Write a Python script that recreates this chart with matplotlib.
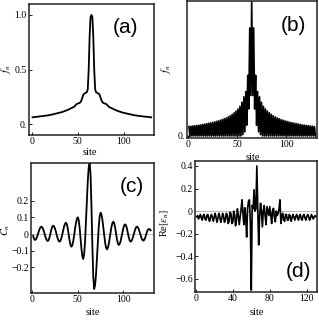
import numpy as np
import matplotlib
matplotlib.use('Agg')
import matplotlib.pyplot as plt

plt.rcParams['font.family'] = ['Liberation Serif', 'DejaVu Serif']
plt.rcParams['mathtext.fontset'] = 'stix'

# site index 1..130
sites = np.arange(1, 131)

# (a) f_n, smooth profile
f_a = [0.062, 0.063, 0.064, 0.065, 0.066, 0.067, 0.068, 0.069, 0.070, 0.071,
       0.072, 0.073, 0.074, 0.075, 0.077, 0.078, 0.079, 0.081, 0.082, 0.084,
       0.085, 0.087, 0.089, 0.090, 0.092, 0.094, 0.096, 0.098, 0.100, 0.103,
       0.105, 0.108, 0.110, 0.113, 0.116, 0.119, 0.122, 0.126, 0.129, 0.133,
       0.137, 0.141, 0.146, 0.150, 0.153, 0.158, 0.166, 0.176, 0.184, 0.188,
       0.190, 0.193, 0.200, 0.215, 0.240, 0.265, 0.278, 0.283, 0.287, 0.292,
       0.320, 0.500, 0.800, 0.980, 1.000, 0.980, 0.800, 0.500, 0.320, 0.292,
       0.287, 0.283, 0.278, 0.265, 0.240, 0.215, 0.200, 0.193, 0.190, 0.188,
       0.184, 0.176, 0.166, 0.158, 0.153, 0.150, 0.146, 0.141, 0.137, 0.133,
       0.129, 0.126, 0.122, 0.119, 0.116, 0.113, 0.110, 0.108, 0.105, 0.103,
       0.100, 0.098, 0.096, 0.094, 0.092, 0.090, 0.089, 0.087, 0.085, 0.084,
       0.082, 0.081, 0.079, 0.078, 0.077, 0.075, 0.074, 0.073, 0.072, 0.071,
       0.070, 0.069, 0.068, 0.067, 0.066, 0.065, 0.064, 0.063, 0.062, 0.062]

# (b) f_n, odd sites high / even sites low
f_b_high = [0.070, 0.072, 0.074, 0.076, 0.078, 0.080, 0.082, 0.085, 0.088, 0.091,
            0.094, 0.097, 0.100, 0.104, 0.108, 0.112, 0.117, 0.122, 0.128, 0.134,
            0.141, 0.150, 0.160, 0.172, 0.185, 0.200, 0.220, 0.250, 0.290, 0.330,
            0.450, 0.800, 1.000, 0.800, 0.450, 0.330, 0.290, 0.250, 0.220, 0.200,
            0.185, 0.172, 0.160, 0.150, 0.141, 0.134, 0.128, 0.122, 0.117, 0.112,
            0.108, 0.104, 0.100, 0.097, 0.094, 0.091, 0.088, 0.085, 0.082, 0.080,
            0.078, 0.076, 0.074, 0.072, 0.070]
f_b_low = [0.0] * 27 + [0.01, 0.03, 0.08, 0.20, 0.30, 0.30, 0.20, 0.08, 0.03, 0.01] + [0.0] * 28

# (c) C_n
c_n = [-0.012, -0.030, -0.036, -0.032, -0.021, -0.005, 0.013, 0.029, 0.040, 0.044,
       0.040, 0.028, 0.011, -0.009, -0.026, -0.038, -0.042, -0.036, -0.019, 0.004,
       0.027, 0.044, 0.050, 0.045, 0.032, 0.013, -0.009, -0.028, -0.041, -0.046,
       -0.040, -0.025, -0.002, 0.024, 0.047, 0.062, 0.068, 0.058, 0.032, -0.004,
       -0.040, -0.066, -0.076, -0.067, -0.043, -0.008, 0.032, 0.067, 0.091, 0.100,
       0.083, 0.038, -0.025, -0.088, -0.133, -0.150, -0.121, -0.041, 0.076, 0.204,
       0.321, 0.401, 0.430, 0.358, 0.168, -0.068, -0.258, -0.330, -0.307, -0.244,
       -0.152, -0.050, 0.042, 0.105, 0.128, 0.117, 0.087, 0.042, -0.006, -0.051,
       -0.081, -0.092, -0.084, -0.061, -0.027, 0.009, 0.043, 0.066, 0.074, 0.065,
       0.039, 0.004, -0.031, -0.057, -0.066, -0.060, -0.043, -0.018, 0.010, 0.035,
       0.052, 0.058, 0.051, 0.032, 0.006, -0.020, -0.039, -0.046, -0.041, -0.029,
       -0.011, 0.009, 0.027, 0.040, 0.044, 0.040, 0.028, 0.011, -0.007, -0.024,
       -0.036, -0.040, -0.035, -0.023, -0.005, 0.013, 0.025, 0.030, 0.028, 0.022]

# (d) Re[eps_n]
re_eps = [-0.05, -0.04, -0.07, -0.05, -0.03, -0.06, -0.08, -0.04, -0.03, -0.07,
          -0.08, -0.04, -0.03, -0.07, -0.09, -0.05, -0.03, -0.06, -0.09, -0.05,
          -0.02, -0.06, -0.10, -0.06, -0.02, -0.05, -0.10, -0.07, -0.02, -0.04,
          -0.10, -0.08, -0.02, -0.03, -0.11, -0.09, -0.01, -0.02, -0.11, -0.10,
          0.00, -0.03, -0.13, -0.08, 0.02, -0.04, -0.12, -0.05, 0.02, 0.10,
          -0.02, -0.12, 0.03, -0.05, -0.23, 0.02, 0.09, 0.10, -0.10, -0.70,
          0.05, 0.02, 0.19, 0.00, 0.02, 0.40, 0.02, -0.30, -0.05, 0.07,
          0.00, -0.14, 0.00, 0.05, -0.05, -0.12, 0.04, 0.00, -0.04, 0.04,
          -0.03, -0.11, 0.00, 0.025, -0.06, -0.095, 0.00, -0.04, -0.02, 0.02,
          0.10, -0.11, -0.04, -0.02, -0.08, -0.09, -0.03, -0.03, -0.08, -0.08,
          -0.03, -0.04, -0.09, -0.06, -0.03, -0.05, -0.08, -0.05, -0.03, -0.06,
          -0.08, -0.04, -0.03, -0.07, -0.08, -0.04, -0.03, -0.06, -0.08, -0.05,
          -0.03, -0.05, -0.08, -0.06, -0.03, -0.05, -0.07, -0.05, -0.04, -0.05]

f_b = []
for hi, lo in zip(f_b_high, f_b_low):
    f_b += [hi, lo]

fig = plt.figure(figsize=(3.19, 3.21), dpi=100)

ax_a = fig.add_axes([29/319, 1-135/321, 125/319, 131/321])
ax_b = fig.add_axes([187/319, 1-138/321, 130/319, 137/321])
ax_c = fig.add_axes([31/319, 1-293/321, 123/319, 130/321])
ax_d = fig.add_axes([195/319, 1-292/321, 122/319, 131/321])

lc = 'black'
ax_a.plot(sites, f_a, color=lc, lw=1.3)
ax_b.plot(sites, f_b, color=lc, lw=1.2)
ax_c.axhline(0, color='#b0b0b0', lw=0.6)
ax_c.plot(sites, c_n, color=lc, lw=1.3)
ax_d.axhline(0, color='#b0b0b0', lw=0.6)
ax_d.plot(sites, re_eps, color=lc, lw=1.2)

ax_a.set_xlim(-2.9, 133)
ax_a.set_ylim(-0.1, 1.1)
ax_b.set_xlim(-1, 131.6)
ax_b.set_ylim(-0.015, 1.0)
ax_c.set_xlim(-1.4, 133.7)
ax_c.set_ylim(-0.354, 0.426)
ax_d.set_xlim(-0.8, 131)
ax_d.set_ylim(-0.717, 0.444)

ax_a.set_yticks([0, 0.5, 1.0], ['0.', '0.5', '1.0'])
ax_b.set_yticks([0], ['0.'])
ax_c.set_yticks([-0.2, -0.1, 0, 0.1, 0.2], ['\u22120.2', '\u22120.1', '0', '0.1', '0.2'])
ax_d.set_yticks([-0.6, -0.4, -0.2, 0, 0.2, 0.4],
                ['\u22120.6', '\u22120.4', '\u22120.2', '0', '0.2', '0.4'])
for ax in (ax_a, ax_b, ax_c):
    ax.set_xticks([0, 50, 100])
ax_d.set_xticks([0, 40, 80, 120])

for ax in (ax_a, ax_b, ax_c, ax_d):
    ax.patch.set_visible(False)
    ax.tick_params(direction='in', length=2.5, width=0.6, labelsize=7, pad=1.5)
    for s in ax.spines.values():
        s.set_linewidth(1.1)
        s.set_color('#222222')
    ax.set_xlabel('site', fontsize=7.5)

ax_a.set_ylabel('$f_n$', fontsize=7.5)
ax_b.set_ylabel('$f_n$', fontsize=7.5)
ax_c.set_ylabel('$C_n$', fontsize=7.5)
ax_d.set_ylabel(r'Re$[\epsilon_n]$', fontsize=7.5)

ax_a.yaxis.set_label_coords(-0.13, 0.5)
ax_b.yaxis.set_label_coords(-0.108, 0.5)
ax_c.yaxis.set_label_coords(-0.155, 0.485)
ax_d.yaxis.set_label_coords(-0.197, 0.53)
ax_a.xaxis.set_label_coords(0.49, -0.10)
ax_b.xaxis.set_label_coords(0.51, -0.11)
ax_c.xaxis.set_label_coords(0.50, -0.115)
ax_d.xaxis.set_label_coords(0.51, -0.122)

panel = dict(fontsize=15, family='Liberation Sans', ha='center', va='center')
ax_a.text(0.77, 0.824, '(a)', transform=ax_a.transAxes, **panel)
ax_b.text(0.815, 0.82, '(b)', transform=ax_b.transAxes, **panel)
ax_c.text(0.82, 0.82, '(c)', transform=ax_c.transAxes, **panel)
ax_d.text(0.845, 0.153, '(d)', transform=ax_d.transAxes, **panel)

fig.savefig('out.png', dpi=100)
